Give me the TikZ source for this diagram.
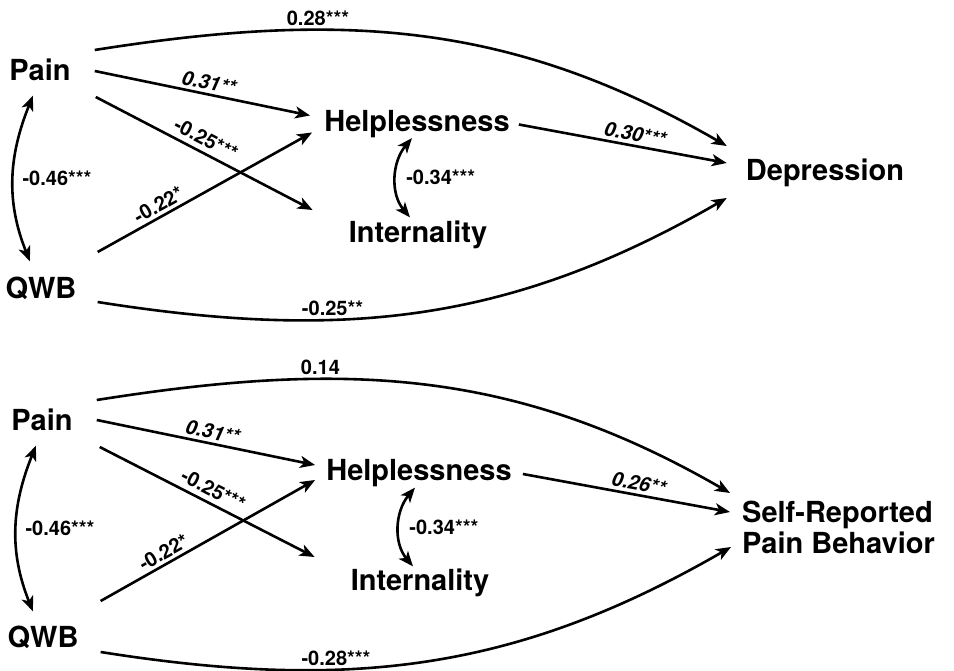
\documentclass[tikz,border=0pt]{standalone}
\usepackage{fontspec}
\setmainfont{TeX Gyre Heros}
\usepackage{tikz}
\usetikzlibrary{arrows.meta}

\begin{document}
\begin{tikzpicture}[
  x=1pt, y=1pt,
  var/.style={font=\fontsize{29}{31}\selectfont\bfseries, inner sep=0pt,
              text height=20.8pt, text depth=0pt},
  outc/.style={font=\fontsize{29}{31}\selectfont\bfseries, inner sep=0pt, align=left},
  coef/.style={font=\fontsize{20}{22}\selectfont\bfseries, inner sep=3pt},
  icoef/.style={coef, font=\fontsize{20}{22}\selectfont\bfseries\itshape},
  arr/.style={-{Stealth[length=15pt, width=12pt, inset=4pt]}, line width=2.6pt},
  dbl/.style={{Stealth[length=15pt, width=12pt, inset=4pt]}-{Stealth[length=15pt, width=12pt, inset=4pt]}, line width=2.6pt}
]
\useasboundingbox (0,0) rectangle (954,-671);

% ---- Top model: depression ----
\node[var] (pain) at (40,-70) {Pain};
\node[var] (qwb) at (41,-288) {QWB};
\node[var] (help) at (417,-121.5) {Helplessness};
\node[var] (intern) at (418,-232) {Internality};
\node[var] (depr) at (825,-170) {Depression};

\draw[arr] ([xshift=24pt,yshift=20pt]pain.east) to[out=9,in=150]
  node[coef, above, pos=0.33] {0.28***} ([xshift=-19pt,yshift=24pt]depr.west);
\draw[arr] ([xshift=21pt,yshift=-14pt]qwb.east) to[out=-9,in=210]
  node[coef, above, pos=0.35] {-0.25**} ([xshift=-19pt,yshift=-28pt]depr.west);
\draw[arr] ([xshift=24pt,yshift=-1pt]pain.east) --
  node[icoef, above, sloped, pos=0.52] {0.31**} ([xshift=-14pt,yshift=6pt]help.west);
\draw[arr] ([xshift=25pt,yshift=-27pt]pain.east) --
  node[coef, above=2pt, sloped, pos=0.48] {-0.25***} ([xshift=-36pt,yshift=22pt]intern.west);
\draw[arr] ([xshift=21pt,yshift=36pt]qwb.east) --
  node[coef, above, sloped, pos=0.31] {-0.22*} ([xshift=-12pt,yshift=-11pt]help.west);
\draw[arr] ([xshift=9pt,yshift=-3pt]help.east) --
  node[icoef, above, sloped, pos=0.55] {0.30***} ([xshift=-19pt,yshift=7pt]depr.west);
\draw[dbl] ([xshift=-7pt,yshift=-15pt]pain.south) to[out=248,in=112]
  node[coef, right=5pt] {-0.46***} ([xshift=-11pt,yshift=16pt]qwb.north);
\draw[dbl] ([xshift=-5pt,yshift=-6pt]help.south) to[out=230,in=130]
  node[coef, right=6pt] {-0.34***} ([xshift=-8pt,yshift=4pt]intern.north);

% ---- Bottom model: pain behavior ----
\node[var] (pain2) at (42,-420) {Pain};
\node[var] (qwb2) at (43,-637) {QWB};
\node[var] (help2) at (419,-470) {Helplessness};
\node[var] (intern2) at (420,-580) {Internality};
\node[outc, anchor=west] (srpb) at (742,-527) {Self-Reported\\Pain Behavior};

\draw[arr] ([xshift=24pt,yshift=20pt]pain2.east) to[out=9,in=150]
  node[coef, above, pos=0.33] {0.14} ([xshift=-12pt,yshift=34pt]srpb.west);
\draw[arr] ([xshift=22pt,yshift=-15pt]qwb2.east) to[out=-9,in=210]
  node[coef, above, pos=0.35] {-0.28***} ([xshift=-11pt,yshift=-20pt]srpb.west);
\draw[arr] ([xshift=24pt]pain2.east) --
  node[icoef, above, sloped, pos=0.52] {0.31**} ([xshift=-11pt,yshift=5pt]help2.west);
\draw[arr] ([xshift=27pt,yshift=-27pt]pain2.east) --
  node[coef, above=2pt, sloped, pos=0.5] {-0.25***} ([xshift=-36pt,yshift=23pt]intern2.west);
\draw[arr] ([xshift=22pt,yshift=36pt]qwb2.east) --
  node[coef, above, sloped, pos=0.32] {-0.22*} ([xshift=-11pt,yshift=-10pt]help2.west);
\draw[arr] ([xshift=11pt,yshift=-4pt]help2.east) --
  node[icoef, above, sloped, pos=0.55] {0.26**} ([xshift=-12pt,yshift=15pt]srpb.west);
\draw[dbl] ([xshift=-6pt,yshift=-15pt]pain2.south) to[out=248,in=112]
  node[coef, right=5pt] {-0.46***} ([xshift=-10pt,yshift=15pt]qwb2.north);
\draw[dbl] ([xshift=-4pt,yshift=-7pt]help2.south) to[out=230,in=130]
  node[coef, right=6pt] {-0.34***} ([xshift=-7pt,yshift=3pt]intern2.north);

\end{tikzpicture}
\end{document}
